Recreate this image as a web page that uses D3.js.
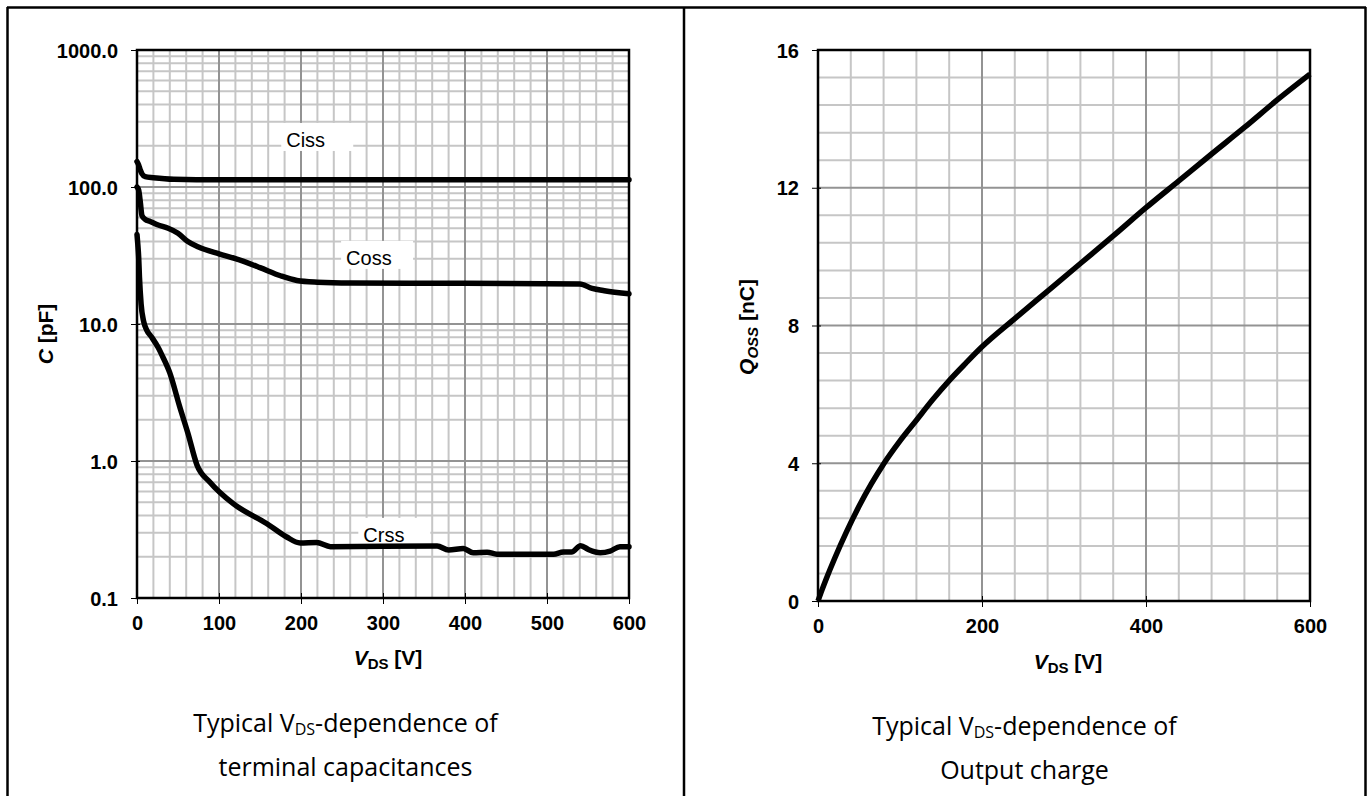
<!DOCTYPE html>
<html>
<head>
<meta charset="utf-8">
<title>VDS dependence</title>
<style>
    html, body { margin: 0; padding: 0; background: #fff; }
    svg { display: block; }
    .tick-label { font-family: "Liberation Sans", Arial, sans-serif; font-weight: bold; font-size: 20px; fill: #000; }
    .axis-title { font-family: "Liberation Sans", Arial, sans-serif; font-weight: bold; font-size: 21px; fill: #000; }
    .curve-label { font-family: "Liberation Sans", Arial, sans-serif; font-size: 20px; fill: #000; }
    .caption { font-family: "Open Sans", "Noto Sans", sans-serif; font-size: 25px; fill: #000; }
</style>
</head>
<body>
<svg width="1370" height="796"></svg>
<script src="https://cdnjs.cloudflare.com/ajax/libs/d3/7.8.5/d3.min.js"></script>
<script>
// ---- left chart: terminal capacitances (pF, log axis) ----
let cissV = [0, 2, 4, 6, 10, 20, 45, 100, 300, 600];
let cissC = [153, 145, 133, 125, 119, 117, 114, 113, 113, 113];

let cossV = [0, 2, 4, 6, 10, 16, 25, 38, 50, 62, 75, 100, 120, 150, 175, 195, 220, 260, 400, 540, 555, 570, 600];
let cossC = [100, 95, 78, 62, 58, 56, 53, 50, 46, 40, 36.5, 32.5, 30, 25.8, 22.5, 20.8, 20.2, 19.9, 19.8, 19.6, 18.2, 17.5, 16.6];

let crssV = [0, 1, 2, 3, 5, 8, 12, 18, 26, 30, 40, 52, 62, 73, 89, 117, 158, 182, 199, 219, 236, 366, 380, 398, 410, 427, 439, 508, 520, 530, 541, 551, 565, 577, 589, 600];
let crssC = [45, 38, 31, 22, 14, 10.5, 9.0, 8.0, 6.7, 6.0, 4.4, 2.5, 1.6, 0.94, 0.70, 0.49, 0.35, 0.28, 0.252, 0.254, 0.237, 0.24, 0.224, 0.23, 0.214, 0.216, 0.209, 0.209, 0.217, 0.217, 0.241, 0.225, 0.214, 0.22, 0.237, 0.237];

let capNames = ["Ciss", "Coss", "Crss"];
let capLabelV = [182, 255, 276];
let capLabelC = [196, 27, 0.257];

let capXTicks = [0, 100, 200, 300, 400, 500, 600];
let capYTicks = [0.1, 1, 10, 100, 1000];

// ---- right chart: output charge (nC) ----
let qossV = [0, 5, 10, 20, 35, 50, 65, 80, 100, 120, 140, 160, 180, 200, 240, 280, 320, 360, 400, 440, 480, 520, 560, 600];
let qossQ = [0, 0.33, 0.64, 1.22, 2.02, 2.75, 3.4, 3.98, 4.65, 5.25, 5.85, 6.4, 6.9, 7.38, 8.2, 9.0, 9.8, 10.6, 11.42, 12.2, 12.98, 13.75, 14.55, 15.3];

let qXTicks = [0, 200, 400, 600];
let qYTicks = [0, 4, 8, 12, 16];

let svg = d3.select("svg");

// outer frame
let frame = svg.append("g").attr("stroke", "#000").attr("stroke-width", 2.5);
frame.append("line").attr("x1", 7).attr("x2", 1366).attr("y1", 7.5).attr("y2", 7.5);
[7.5, 684, 1365.5].forEach(x => {
    frame.append("line").attr("x1", x).attr("x2", x).attr("y1", 7).attr("y2", 796);
});

let minorColor = "#c6c6c6";
let majorColor = "#939393";

function drawFrameAndTicks(g, x, y, xTicks, yTicks, yFormat) {
    let [x0, x1] = x.range();
    let [y1, y0] = y.range();

    g.append("rect")
        .attr("x", x0).attr("y", y0)
        .attr("width", x1 - x0).attr("height", y1 - y0)
        .attr("fill", "none").attr("stroke", "#000").attr("stroke-width", 2.5);

    let ax = g.append("g")
        .attr("transform", "translate(0," + y1 + ")")
        .call(d3.axisBottom(x).tickValues(xTicks).tickSizeInner(6).tickSizeOuter(0).tickPadding(12));
    ax.select(".domain").remove();
    ax.selectAll(".tick line").attr("y1", -5).attr("stroke", "#000").attr("stroke-width", 1);
    ax.selectAll(".tick text").attr("class", "tick-label").attr("dy", null).attr("y", 32);

    let ay = g.append("g")
        .attr("transform", "translate(" + x0 + ",0)")
        .call(d3.axisLeft(y).tickValues(yTicks).tickFormat(yFormat).tickSizeInner(6).tickSizeOuter(0).tickPadding(13));
    ay.select(".domain").remove();
    ay.selectAll(".tick line").attr("x1", 3).attr("stroke", "#000").attr("stroke-width", 1);
    ay.selectAll(".tick text").attr("class", "tick-label").attr("dy", "0.36em");
}

function gridLines(g, x, y, xs, ys, isMajorX, isMajorY) {
    let [x0, x1] = x.range();
    let [y1, y0] = y.range();
    let minor = g.append("g").attr("stroke", minorColor).attr("stroke-width", 2);
    let major = g.append("g").attr("stroke", majorColor).attr("stroke-width", 2);
    xs.forEach(v => {
        (isMajorX(v) ? major : minor).append("line")
            .attr("x1", x(v)).attr("x2", x(v)).attr("y1", y0).attr("y2", y1);
    });
    ys.forEach(v => {
        (isMajorY(v) ? major : minor).append("line")
            .attr("x1", x0).attr("x2", x1).attr("y1", y(v)).attr("y2", y(v));
    });
}

// ---------- left chart ----------
let xL = d3.scaleLinear().domain([0, 600]).range([137, 629]);
let yL = d3.scaleLog().domain([0.1, 1000]).range([598, 50]);
let gL = svg.append("g");

let logGrid = [];
[0.1, 1, 10, 100].forEach(d => {
    for (let k = 1; k <= 9; k++) logGrid.push(+(d * k).toPrecision(3));
});
logGrid.push(1000);
gridLines(gL, xL, yL, d3.range(0, 601, 20), logGrid,
    v => v % 100 === 0,
    v => capYTicks.includes(v));

// curve labels with white background
capNames.forEach((name, i) => {
    let tx = xL(capLabelV[i]);
    let ty = yL(capLabelC[i]);
    gL.append("rect").attr("x", tx - 5).attr("y", ty - 24)
        .attr("width", 72).attr("height", 28).attr("fill", "#fff");
    gL.append("text").attr("class", "curve-label").attr("x", tx).attr("y", ty).text(name);
});

let lineL = d3.line()
    .x(d => xL(d[0]))
    .y(d => yL(d[1]))
    .curve(d3.curveMonotoneX);

[[cissV, cissC], [cossV, cossC], [crssV, crssC]].forEach(([vs, cs]) => {
    gL.append("path")
        .attr("d", lineL(vs.map((v, i) => [v, cs[i]])))
        .attr("fill", "none").attr("stroke", "#000")
        .attr("stroke-width", 5.5).attr("stroke-linejoin", "round").attr("stroke-linecap", "round");
});

drawFrameAndTicks(gL, xL, yL, capXTicks, capYTicks, d3.format(".1f"));

// axis titles left
let tyL = gL.append("text").attr("class", "axis-title")
    .attr("transform", "translate(53,334) rotate(-90)").attr("text-anchor", "middle");
tyL.append("tspan").attr("font-style", "italic").text("C");
tyL.append("tspan").text(" [pF]");

let txL = gL.append("text").attr("class", "axis-title")
    .attr("x", 388).attr("y", 665).attr("text-anchor", "middle");
txL.append("tspan").attr("font-style", "italic").text("V");
txL.append("tspan").attr("font-size", 15).attr("dy", 4).text("DS");
txL.append("tspan").attr("dy", -4).text(" [V]");

// ---------- right chart ----------
let xR = d3.scaleLinear().domain([0, 600]).range([818, 1310]);
let yR = d3.scaleLinear().domain([0, 16]).range([601, 50]);
let gR = svg.append("g");

gridLines(gR, xR, yR, d3.range(0, 601, 40), d3.range(0, 16.01, 0.8).map(v => +v.toFixed(1)),
    v => v % 200 === 0,
    v => qYTicks.includes(v));

let lineR = d3.line()
    .x(d => xR(d[0]))
    .y(d => yR(d[1]))
    .curve(d3.curveMonotoneX);

gR.append("path")
    .attr("d", lineR(qossV.map((v, i) => [v, qossQ[i]])))
    .attr("fill", "none").attr("stroke", "#000")
    .attr("stroke-width", 5.5).attr("stroke-linejoin", "round");

drawFrameAndTicks(gR, xR, yR, qXTicks, qYTicks, d3.format("d"));

let tyR = gR.append("text").attr("class", "axis-title")
    .attr("transform", "translate(754,327) rotate(-90)").attr("text-anchor", "middle");
tyR.append("tspan").attr("font-style", "italic").text("Q");
tyR.append("tspan").attr("font-style", "italic").attr("font-size", 15).attr("dy", 4).text("OSS");
tyR.append("tspan").attr("dy", -4).text(" [nC]");

let txR = gR.append("text").attr("class", "axis-title")
    .attr("x", 1068).attr("y", 669).attr("text-anchor", "middle");
txR.append("tspan").attr("font-style", "italic").text("V");
txR.append("tspan").attr("font-size", 15).attr("dy", 4).text("DS");
txR.append("tspan").attr("dy", -4).text(" [V]");

// ---------- captions ----------
function caption(cx, y1, line2) {
    let t = svg.append("text").attr("class", "caption").attr("x", cx).attr("y", y1).attr("text-anchor", "middle");
    t.append("tspan").text("Typical V");
    t.append("tspan").attr("font-size", 16).attr("dy", 3).text("DS");
    t.append("tspan").attr("dy", -3).text("-dependence of");
    svg.append("text").attr("class", "caption").attr("x", cx).attr("y", y1 + 44)
        .attr("text-anchor", "middle").text(line2);
}
caption(345.5, 732, "terminal capacitances");
caption(1024.5, 735, "Output charge");
</script>
</body>
</html>
